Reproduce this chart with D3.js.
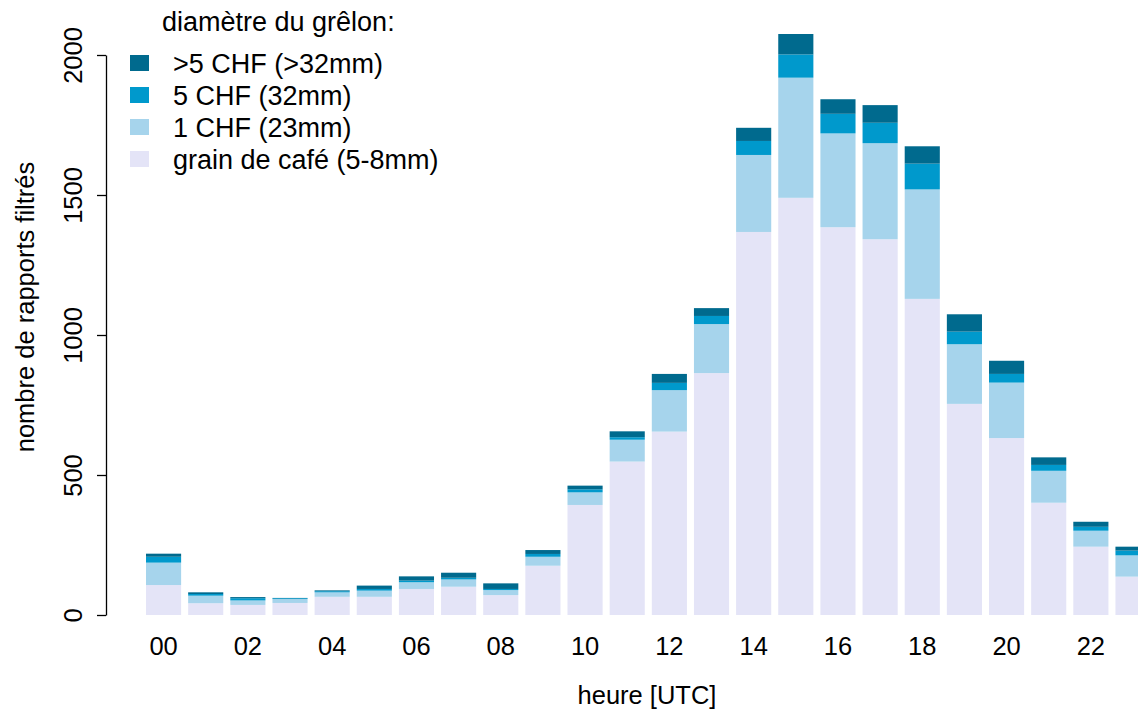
<!DOCTYPE html>
<html>
<head>
<meta charset="utf-8">
<style>
  body { margin: 0; background: #fff; }
  svg text { font-family: "Liberation Sans", Arial, Helvetica, sans-serif; fill: #000; }
</style>
</head>
<body>
<script src="https://d3js.org/d3.v7.min.js"></script>
<script>
    var width = 1138, height = 709;

    // hourly counts per hail size class
    var hours = ["00","01","02","03","04","05","06","07","08","09","10","11",
                 "12","13","14","15","16","17","18","19","20","21","22","23"];
    var grain   = [107, 42, 36, 43, 65, 65, 93, 101, 71, 176, 393, 548, 655, 864, 1368, 1490, 1385, 1342, 1129, 754, 632, 401, 244, 137];
    var chf1    = [80, 27, 16, 14, 16, 22, 24, 26, 18, 32, 45, 78, 148, 175, 275, 429, 335, 343, 391, 213, 198, 114, 57, 76];
    var chf5    = [21, 6, 8, 3, 4, 6, 6, 6, 4, 10, 11, 9, 26, 29, 50, 83, 70, 73, 92, 45, 31, 21, 14, 17];
    var chf5plus = [11, 6, 4, 1, 3, 12, 15, 18, 20, 14, 13, 21, 32, 28, 47, 73, 52, 63, 62, 62, 47, 27, 18, 14];

    var keys = ["grain", "chf1", "chf5", "chf5plus"];
    var labels = {
        chf5plus: ">5 CHF (>32mm)",
        chf5: "5 CHF (32mm)",
        chf1: "1 CHF (23mm)",
        grain: "grain de café (5-8mm)"
    };
    var colors = { grain: "#e4e4f7", chf1: "#a6d4ec", chf5: "#0099cc", chf5plus: "#006a8e" };
    var yTicks = [0, 500, 1000, 1500, 2000];

    var rows = hours.map(function (h, i) {
        return { hour: h, grain: grain[i], chf1: chf1[i], chf5: chf5[i], chf5plus: chf5plus[i] };
    });
    var series = d3.stack().keys(keys)(rows);

    var svg = d3.select('body').append('svg').attr('width', width).attr('height', height);

    var step = 42.15;
    var x = d3.scaleBand().domain(hours)
        .range([146 - step / 12, 146 - step / 12 + 24 * step])
        .paddingInner(1 / 6).paddingOuter(1 / 12);
    var y = d3.scaleLinear().domain([0, 2000]).range([615, 55]);

    // stacked bars
    svg.append('g').selectAll('g')
        .data(series)
        .join('g')
        .attr('fill', function (d) { return colors[d.key]; })
        .selectAll('rect')
        .data(function (d) { return d; })
        .join('rect')
        .attr('x', function (d) { return x(d.data.hour); })
        .attr('width', x.bandwidth())
        .attr('y', function (d) { return y(d[1]); })
        .attr('height', function (d) { return y(d[0]) - y(d[1]); });

    // y axis, R style with rotated labels
    var yAxis = svg.append('g')
        .attr('transform', 'translate(106,0)')
        .call(d3.axisLeft(y).tickValues(yTicks).tickFormat(d3.format('d')).tickSize(9).tickSizeOuter(0));
    yAxis.select('.domain').attr('stroke', '#000').attr('stroke-width', 1.3);
    yAxis.selectAll('.tick line').attr('stroke', '#000').attr('stroke-width', 1.3);
    yAxis.selectAll('.tick text')
        .attr('transform', 'rotate(-90)')
        .attr('x', 0).attr('y', -24).attr('dy', null)
        .attr('text-anchor', 'middle')
        .style('font-size', '25.5px')
        .style('font-family', '"Liberation Sans", Arial, sans-serif');

    // x labels every other hour
    svg.append('g').selectAll('text')
        .data(hours.filter(function (h, i) { return i % 2 === 0; }))
        .join('text')
        .attr('x', function (d) { return x(d) + x.bandwidth() / 2; })
        .attr('y', 655)
        .attr('text-anchor', 'middle')
        .style('font-size', '25.5px')
        .text(function (d) { return d; });

    // axis titles
    svg.append('text')
        .attr('x', 647).attr('y', 704)
        .attr('text-anchor', 'middle')
        .style('font-size', '25.5px')
        .text('heure [UTC]');
    svg.append('text')
        .attr('transform', 'translate(34,307) rotate(-90)')
        .attr('text-anchor', 'middle')
        .style('font-size', '25.5px')
        .text('nombre de rapports filtrés');

    // legend
    svg.append('text')
        .attr('x', 162).attr('y', 31)
        .style('font-size', '27px')
        .text('diamètre du grêlon:');
    var legendKeys = ["chf5plus", "chf5", "chf1", "grain"];
    var lg = svg.append('g').selectAll('g')
        .data(legendKeys)
        .join('g')
        .attr('transform', function (d, i) { return 'translate(130,' + (63 + i * 32) + ')'; });
    lg.append('rect')
        .attr('x', 0).attr('y', -8).attr('width', 19).attr('height', 16)
        .attr('fill', function (d) { return colors[d]; });
    lg.append('text')
        .attr('x', 43).attr('y', 9.5)
        .style('font-size', '27px')
        .text(function (d) { return labels[d]; });

    console.log('ready..');
</script>
</body>
</html>
